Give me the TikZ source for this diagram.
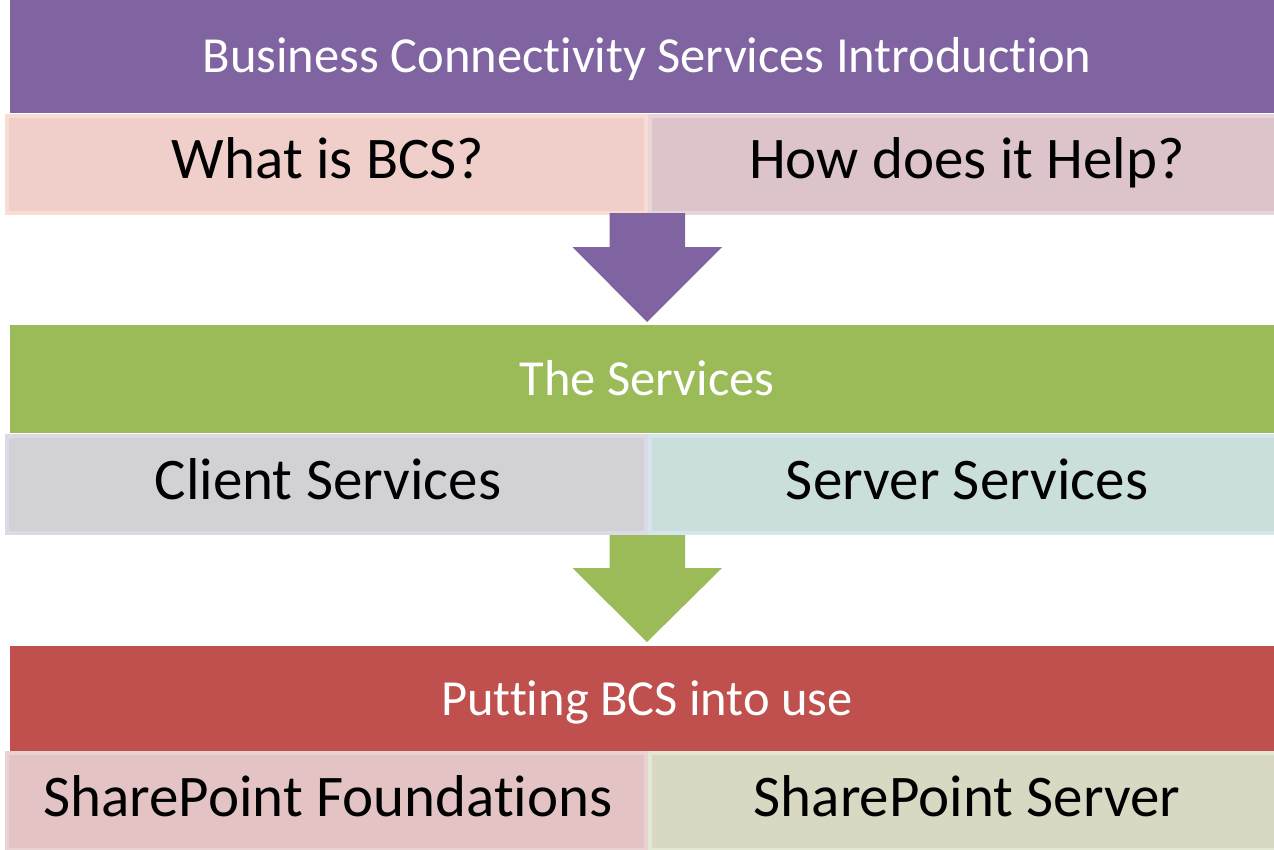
\documentclass[tikz,border=0pt]{standalone}
\usepackage{fontspec}
\setmainfont{Carlito}[Ligatures=NoCommon]
\definecolor{hpurple}{HTML}{8064A2}
\definecolor{hgreen}{HTML}{9BBB59}
\definecolor{hred}{HTML}{C0504D}
\definecolor{f1}{HTML}{F0CFCA}\definecolor{b1}{HTML}{FADDD2}
\definecolor{f2}{HTML}{DCC4CA}\definecolor{b2}{HTML}{E8D5DA}
\definecolor{f3}{HTML}{D2D2D6}\definecolor{b3}{HTML}{DCDAE6}
\definecolor{f4}{HTML}{CADFDC}\definecolor{b4}{HTML}{D5E5EC}
\definecolor{f5}{HTML}{E3C3C3}\definecolor{b5}{HTML}{EAD2D2}
\definecolor{f6}{HTML}{D9D8C3}\definecolor{b6}{HTML}{E2E8D2}
\tikzset{
  header/.style={fill=#1, draw=none, inner sep=0pt, minimum width=1274pt},
  headtext/.style={text=white, inner sep=0pt, anchor=base, font=\fontsize{50.5}{54}\selectfont},
  subbox/.style 2 args={fill=#1, draw=#2, line width=4pt, inner sep=0pt, minimum height=97pt},
  subtext/.style={text=black, inner sep=0pt, anchor=base, font=\fontsize{59}{62}\selectfont},
  leftbox/.style={minimum width=639pt},
  rightbox/.style={minimum width=634pt}
}
\begin{document}
\begin{tikzpicture}[x=1pt,y=-1pt]
\useasboundingbox (0,0) rectangle (1274,849);
\clip (0,0) rectangle (1274,849);
% row 1
\node[header=hpurple, minimum height=113pt] (h1) at (647,56.5) {};
\node[headtext] (t1) at (647,72.5) {Business Connectivity Services Introduction};
\node[subbox={f1}{b1}, leftbox] (s1a) at (326.5,164) {};
\node[subbox={f2}{b2}, rightbox, anchor=west] (s1b) at (648,164) {};
\node[subtext] (u1a) at (328,178.5) {What is BCS?};
\node[subtext] (u1b) at (967,178.5) {How does it Help?};
% arrow 1
\coordinate (a1) at (647,213);
\fill[hpurple] (a1) ++(-37.5,0) -- ++(0,34) -- ++(-37,0) -- (647,322) -- (722,247) -- ++(-37,0) -- ++(0,-34) -- cycle;
% row 2
\node[header=hgreen, minimum height=108pt] (h2) at (647,379) {};
\node[headtext] (t2) at (647,395.5) {The Services};
\node[subbox={f3}{b3}, leftbox] (s2a) at (326.5,484.5) {};
\node[subbox={f4}{b4}, rightbox, anchor=west] (s2b) at (648,484.5) {};
\node[subtext] (u2a) at (328,499) {Client Services};
\node[subtext] (u2b) at (967,499) {Server Services};
% arrow 2
\coordinate (a2) at (647,535);
\fill[hgreen] (a2) ++(-37.5,0) -- ++(0,33) -- ++(-37,0) -- (647,642) -- (722,568) -- ++(-37,0) -- ++(0,-33) -- cycle;
% row 3
\node[header=hred, minimum height=105pt] (h3) at (647,698.5) {};
\node[headtext] (t3) at (647,715.5) {Putting BCS into use};
\node[subbox={f5}{b5}, leftbox] (s3a) at (326.5,801) {};
\node[subbox={f6}{b6}, rightbox, anchor=west] (s3b) at (648,801) {};
\node[subtext] (u3a) at (328,816) {SharePoint Foundations};
\node[subtext] (u3b) at (967,816) {SharePoint Server};
\end{tikzpicture}
\end{document}
